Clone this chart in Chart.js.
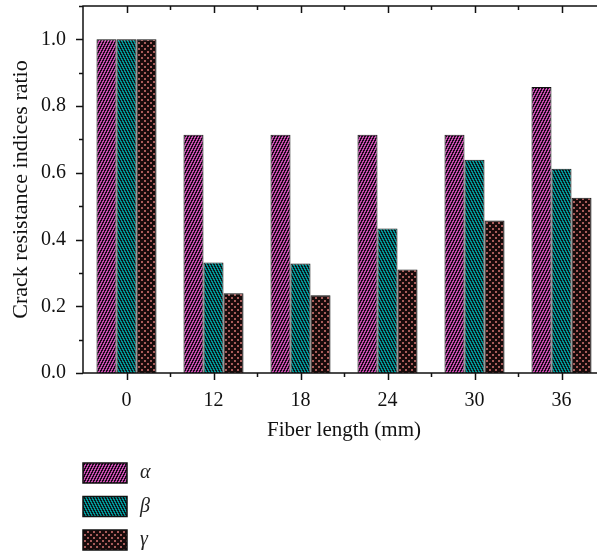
<!DOCTYPE html>
<html>
<head>
<meta charset="utf-8">
<script src="https://cdn.jsdelivr.net/npm/chart.js@4/dist/chart.umd.min.js"></script>
<style>
  html, body { margin: 0; padding: 0; background: #fff; overflow: hidden; }
  #wrap { width: 597px; height: 556px; overflow: hidden; }
</style>
</head>
<body>
<div id="wrap"><canvas id="myChart" width="620" height="556"></canvas></div>
<script>
// --- data ---
const categories = ['0', '12', '18', '24', '30', '36'];
const seriesNames = ['α', 'β', 'γ'];
const alphaValues = [1.0, 0.714, 0.714, 0.714, 0.714, 0.857];
const betaValues = [1.0, 0.331, 0.328, 0.433, 0.639, 0.612];
const gammaValues = [1.0, 0.239, 0.233, 0.310, 0.457, 0.525];
const yTickValues = [0, 0.2, 0.4, 0.6, 0.8, 1.0];

const serif = "'Liberation Serif', 'DejaVu Serif', serif";
const ink = '#111';

const ctx = document.getElementById('myChart').getContext('2d');

// small pixel tile turned into a repeat pattern
function makePattern(w, h, base, fg, isFg) {
  const c = document.createElement('canvas');
  c.width = w; c.height = h;
  const g = c.getContext('2d');
  const img = g.createImageData(w, h);
  for (let y = 0; y < h; y++) {
    for (let x = 0; x < w; x++) {
      const col = isFg(x, y) ? fg : base;
      const k = (y * w + x) * 4;
      img.data[k] = col[0]; img.data[k + 1] = col[1]; img.data[k + 2] = col[2]; img.data[k + 3] = 255;
    }
  }
  g.putImageData(img, 0, 0);
  return ctx.createPattern(c, 'repeat');
}

const patAlpha = makePattern(3, 6, [198, 74, 172], [28, 10, 28], (x, y) => (2 * x + y) % 6 < 3);
const patBeta = makePattern(3, 6, [0, 150, 150], [10, 26, 30], (x, y) => ((2 * x - y) % 6 + 6) % 6 < 3);
const patGamma = makePattern(6, 6, [24, 11, 11], [168, 92, 90],
  (x, y) => (x < 2 && y < 2) || (x >= 3 && x < 5 && y >= 3 && y < 5));

// frame + tick marks (top ticks point inward, others outward)
const framePlugin = {
  id: 'frame',
  afterDatasetsDraw(chart) {
    const { ctx, chartArea: a, scales: { x, y } } = chart;
    ctx.save();
    ctx.strokeStyle = ink;
    ctx.lineWidth = 1.5;
    ctx.beginPath();
    ctx.rect(a.left, a.top, a.right - a.left, a.bottom - a.top);
    const half = (x.getPixelForValue(1) - x.getPixelForValue(0)) / 2;
    categories.forEach((c, i) => {
      const px = Math.round(x.getPixelForValue(i)) + 0.5;
      ctx.moveTo(px, a.bottom); ctx.lineTo(px, a.bottom + 7);
      ctx.moveTo(px, a.top); ctx.lineTo(px, a.top + 7);
      if (i > 0) {
        const bx = Math.round(x.getPixelForValue(i) - half) + 0.5;
        ctx.moveTo(bx, a.bottom); ctx.lineTo(bx, a.bottom + 4);
        ctx.moveTo(bx, a.top); ctx.lineTo(bx, a.top + 4);
      }
    });
    yTickValues.forEach(v => {
      const py = Math.round(y.getPixelForValue(v)) + 0.5;
      ctx.moveTo(a.left - 7, py); ctx.lineTo(a.left, py);
      const my = Math.round(y.getPixelForValue(v + 0.1)) + 0.5;
      ctx.moveTo(a.left - 4, my); ctx.lineTo(a.left, my);
    });
    ctx.stroke();
    ctx.restore();
  }
};

// vertical legend under the axis title
const legendPlugin = {
  id: 'stackLegend',
  afterDraw(chart) {
    const c = chart.ctx;
    c.save();
    chart.data.datasets.forEach((ds, i) => {
      const top = 463 + i * 33.5;
      c.fillStyle = ds.backgroundColor;
      c.fillRect(83, top, 44, 20);
      c.strokeStyle = ink;
      c.lineWidth = 1.5;
      c.strokeRect(83, top, 44, 20);
      c.fillStyle = '#222';
      c.font = 'italic 20px ' + serif;
      c.textBaseline = 'middle';
      c.fillText(ds.label, 140, top + 10);
    });
    c.restore();
  }
};

new Chart(ctx, {
  type: 'bar',
  data: {
    labels: categories,
    datasets: [
      { label: seriesNames[0], data: alphaValues, backgroundColor: patAlpha, borderColor: ink, borderWidth: 1 },
      { label: seriesNames[1], data: betaValues, backgroundColor: patBeta, borderColor: ink, borderWidth: 1 },
      { label: seriesNames[2], data: gammaValues, backgroundColor: patGamma, borderColor: ink, borderWidth: 1 }
    ]
  },
  options: {
    responsive: false,
    animation: false,
    layout: { padding: { top: 6, right: 15, bottom: 113, left: 0 } },
    datasets: { bar: { categoryPercentage: 0.69, barPercentage: 1 } },
    plugins: { legend: { display: false }, tooltip: { enabled: false } },
    scales: {
      x: {
        grid: { display: false, drawTicks: false },
        border: { display: false },
        ticks: { padding: 16, color: ink, font: { family: serif, size: 20 } },
        title: { display: true, text: 'Fiber length (mm)', color: ink, font: { family: serif, size: 21 }, padding: 0 },
        afterFit(s) { s.height = 70; s.paddingLeft = 0; s.paddingRight = 0; }
      },
      y: {
        min: 0,
        max: 1.1,
        grid: { display: false, drawTicks: false },
        border: { display: false },
        afterBuildTicks(s) { s.ticks = yTickValues.map(v => ({ value: v })); },
        ticks: { padding: 17, color: ink, font: { family: serif, size: 20 }, callback: v => Number(v).toFixed(1) },
        title: { display: true, text: 'Crack resistance indices ratio', color: ink, font: { family: serif, size: 22 }, padding: { top: 8, bottom: 0 } },
        afterFit(s) { s.width = 83; s.paddingTop = 0; s.paddingBottom = 0; }
      }
    }
  },
  plugins: [framePlugin, legendPlugin]
});
</script>
</body>
</html>
